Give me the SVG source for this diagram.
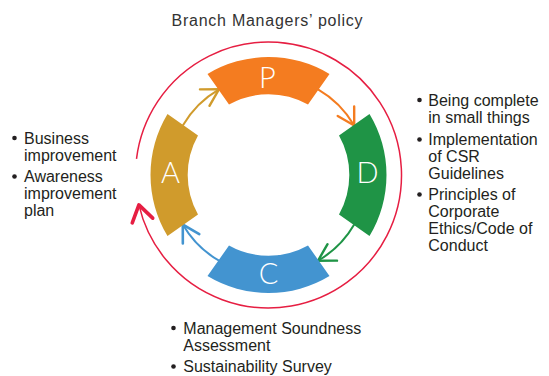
<svg xmlns="http://www.w3.org/2000/svg" width="549" height="376" viewBox="0 0 549 376">
<style>
.t{font-family:"Liberation Sans",Arial,sans-serif;font-size:16px;fill:#231f20}
.ttl{font-family:"Liberation Sans",Arial,sans-serif;font-size:16px;fill:#333;letter-spacing:0.75px}
.lt{font-family:Lato,"Open Sans",sans-serif;font-size:29px;fill:#fff;text-anchor:middle;font-weight:300}
.c{fill:none;stroke-width:2}
.b{fill:#231f20}
</style>
<defs>
<path id="seg" d="M-61,-101 A118,118 0 0 1 61,-101 L39.5,-70.5 A80.8,80.8 0 0 0 -39.5,-70.5 Z"/>
<marker id="mA" markerUnits="userSpaceOnUse" orient="auto" overflow="visible" refX="0" refY="0" markerWidth="1" markerHeight="1"><path d="M-16.5,-9.5 L0,0 L-16.5,9.5" fill="none" stroke="#d09b2c" stroke-width="2.4" stroke-linecap="round"/></marker>
<marker id="mP" markerUnits="userSpaceOnUse" orient="auto" overflow="visible" refX="0" refY="0" markerWidth="1" markerHeight="1"><path d="M-16.5,-9.5 L0,0 L-16.5,9.5" fill="none" stroke="#f47c20" stroke-width="2.4" stroke-linecap="round"/></marker>
<marker id="mD" markerUnits="userSpaceOnUse" orient="auto" overflow="visible" refX="0" refY="0" markerWidth="1" markerHeight="1"><path d="M-16.5,-9.5 L0,0 L-16.5,9.5" fill="none" stroke="#1f9446" stroke-width="2.4" stroke-linecap="round"/></marker>
<marker id="mC" markerUnits="userSpaceOnUse" orient="auto" overflow="visible" refX="0" refY="0" markerWidth="1" markerHeight="1"><path d="M-16.5,-9.5 L0,0 L-16.5,9.5" fill="none" stroke="#4394d0" stroke-width="2.6" stroke-linecap="round"/></marker>
<marker id="mR" markerUnits="userSpaceOnUse" orient="auto" overflow="visible" refX="0" refY="0" markerWidth="1" markerHeight="1"><path d="M-16,-10.5 L0,0 L-16,10.5" fill="none" stroke="#e61e42" stroke-width="3.6" stroke-linecap="round" stroke-linejoin="round"/></marker>
</defs>

<text class="ttl" x="171.5" y="26">Branch Managers’ policy</text>

<g id="connectors">
<path d="M136.5,158.8 A133,133 0 1 1 138.9,204.9" fill="none" stroke="#e61e42" stroke-width="1.5" marker-end="url(#mR)"/>
<path class="c" d="M182.8,125.5 A99,99 0 0 1 219,89.3" stroke="#d09b2c" marker-end="url(#mA)"/>
<path class="c" d="M318,89.3 A99,99 0 0 1 354.2,125.5" stroke="#f47c20" marker-end="url(#mP)"/>
<path class="c" d="M354.2,224.5 A99,99 0 0 1 318,260.7" stroke="#1f9446" marker-end="url(#mD)"/>
<path class="c" d="M219,260.7 A99,99 0 0 1 182.8,224.5" stroke="#4394d0" stroke-width="2.4" marker-end="url(#mC)"/>
</g>

<g id="nodeP">
<use href="#seg" transform="translate(268.5,175)" fill="#f47c20"/>
<text class="lt" x="267.5" y="88">P</text>
</g>
<g id="nodeD">
<use href="#seg" transform="translate(268.5,175) rotate(90)" fill="#1f9446"/>
<text class="lt" x="367.5" y="183">D</text>
</g>
<g id="nodeC">
<use href="#seg" transform="translate(268.5,175) rotate(180)" fill="#4394d0"/>
<text class="lt" x="268.5" y="284">C</text>
</g>
<g id="nodeA">
<use href="#seg" transform="translate(268.5,175) rotate(270)" fill="#d09b2c"/>
<text class="lt" x="170.5" y="183">A</text>
</g>

<g id="notesA">
<circle class="b" cx="14.5" cy="138" r="2.3"/>
<text class="t" x="24" y="143.5">Business</text>
<text class="t" x="24" y="160.5">improvement</text>
<circle class="b" cx="14.5" cy="176.5" r="2.3"/>
<text class="t" x="24" y="182">Awareness</text>
<text class="t" x="24" y="199">improvement</text>
<text class="t" x="24" y="216">plan</text>
</g>

<g id="notesD">
<circle class="b" cx="419.5" cy="100" r="2.3"/>
<text class="t" x="428.3" y="105.5">Being complete</text>
<text class="t" x="428.3" y="122.5">in small things</text>
<circle class="b" cx="419.5" cy="139.5" r="2.3"/>
<text class="t" x="428.3" y="145">Implementation</text>
<text class="t" x="428.3" y="162">of CSR</text>
<text class="t" x="428.3" y="179">Guidelines</text>
<circle class="b" cx="419.5" cy="194.5" r="2.3"/>
<text class="t" x="428.3" y="200">Principles of</text>
<text class="t" x="428.3" y="217">Corporate</text>
<text class="t" x="428.3" y="234">Ethics/Code of</text>
<text class="t" x="428.3" y="251">Conduct</text>
</g>

<g id="notesC">
<circle class="b" cx="173.5" cy="328" r="2.3"/>
<text class="t" x="183.3" y="333.5">Management Soundness</text>
<text class="t" x="183.3" y="350.5">Assessment</text>
<circle class="b" cx="173.5" cy="366.5" r="2.3"/>
<text class="t" x="183.3" y="372">Sustainability Survey</text>
</g>
</svg>
